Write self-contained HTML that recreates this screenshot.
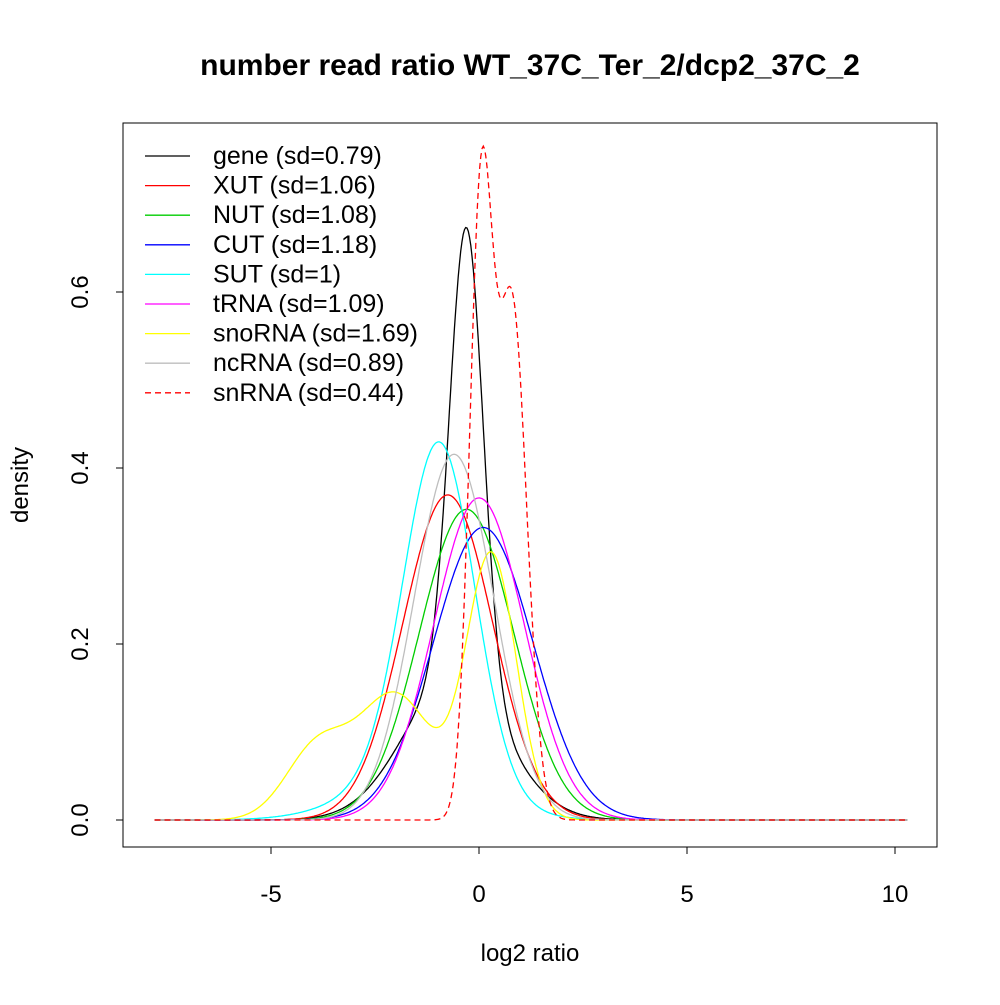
<!DOCTYPE html>
<html><head><meta charset="utf-8"><style>
body{margin:0;background:#fff}
svg text{font-family:"Liberation Sans",Arial,sans-serif}
</style></head><body>
<svg id="s" width="1000" height="1000" xmlns="http://www.w3.org/2000/svg">
<rect width="1000" height="1000" fill="#fff"/>
<text x="530" y="75" font-size="30" font-weight="bold" text-anchor="middle">number read ratio WT_37C_Ter_2/dcp2_37C_2</text>
<rect x="123" y="123" width="814" height="724" fill="none" stroke="#000" stroke-width="1"/>
<g stroke="#000" stroke-width="1">
<line x1="271" y1="847" x2="895" y2="847"/>
<line x1="271" y1="847" x2="271" y2="854"/><line x1="479" y1="847" x2="479" y2="854"/>
<line x1="687" y1="847" x2="687" y2="854"/><line x1="895" y1="847" x2="895" y2="854"/>
<line x1="123" y1="820" x2="123" y2="292"/>
<line x1="123" y1="820" x2="116" y2="820"/><line x1="123" y1="644" x2="116" y2="644"/>
<line x1="123" y1="468" x2="116" y2="468"/><line x1="123" y1="292" x2="116" y2="292"/>
</g>
<g font-size="24" text-anchor="middle">
<text x="271" y="902">-5</text><text x="479" y="902">0</text><text x="687" y="902">5</text><text x="895" y="902">10</text>
<text x="530" y="961">log2 ratio</text>
<text transform="translate(88,820) rotate(-90)">0.0</text>
<text transform="translate(88,644) rotate(-90)">0.2</text>
<text transform="translate(88,468) rotate(-90)">0.4</text>
<text transform="translate(88,292) rotate(-90)">0.6</text>
<text transform="translate(28,485) rotate(-90)">density</text>
</g>
<g id="curves" fill="none" stroke-width="1.3"></g>
<g id="leg" font-size="25"></g>
</svg>
<script>
function N(x,m,s){return Math.exp(-0.5*((x-m)/s)**2)/(s*Math.sqrt(2*Math.PI));}
var series=[
["#000",[[0.52,-0.3,0.4],[0.48,-0.6,1.2]],"gene (sd=0.79)"],
["#FF0000",[[1,-0.75,1.08]],"XUT (sd=1.06)"],
["#00CD00",[[1,-0.3,1.13]],"NUT (sd=1.08)"],
["#0000FF",[[1,0.1,1.2]],"CUT (sd=1.18)"],
["#00FFFF",[[0.82,-0.95,0.85],[0.18,-1.5,1.5]],"SUT (sd=1)"],
["#FF00FF",[[1,0,1.09]],"tRNA (sd=1.09)"],
["#FFFF00",[[0.45,0.3,0.6],[0.32,-2.0,0.9],[0.15,-3.9,0.75]],"snoRNA (sd=1.69)"],
["#BEBEBE",[[1,-0.6,0.96]],"ncRNA (sd=0.89)"],
["#FF0000",[[0.49,0.05,0.28],[0.51,0.8,0.35]],"snRNA (sd=0.44)",1]
];
var g=document.getElementById("curves"),lg=document.getElementById("leg");
var NS="http://www.w3.org/2000/svg";
series.forEach(function(s,i){
 var d="";
 for(var k=0;k<=600;k++){var x=-7.8+k*18.1/600,y=0;s[1].forEach(function(c){y+=c[0]*N(x,c[1],c[2]);});
  d+=(k?"L":"M")+(479+41.6*x).toFixed(1)+","+(820-880*y).toFixed(1);}
 var p=document.createElementNS(NS,"path");p.setAttribute("d",d);p.setAttribute("stroke",s[0]);
 if(s[3])p.setAttribute("stroke-dasharray","6,4");g.appendChild(p);
 var yy=156+i*29.6;
 var l=document.createElementNS(NS,"line");l.setAttribute("x1",145);l.setAttribute("x2",190);
 l.setAttribute("y1",yy);l.setAttribute("y2",yy);l.setAttribute("stroke",s[0]);l.setAttribute("stroke-width",1.3);
 if(s[3])l.setAttribute("stroke-dasharray","6,4");lg.appendChild(l);
 var t=document.createElementNS(NS,"text");t.setAttribute("x",213);t.setAttribute("y",yy+8);t.textContent=s[2];lg.appendChild(t);
});
</script>
</body></html>
